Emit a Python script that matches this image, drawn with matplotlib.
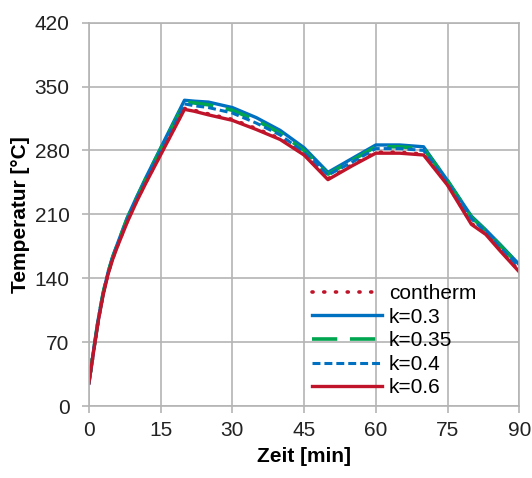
import matplotlib
matplotlib.use('Agg')
import matplotlib.pyplot as plt

# time axis [min]
zeit = [0, 1, 2, 3, 4, 5, 6, 7, 8, 10, 12, 14, 16, 18, 20, 22, 25, 30, 35, 40, 45,
        50, 55, 60, 65, 70, 75, 80, 83, 86, 90]

# temperatures [°C]
contherm = [25, 60, 95, 123, 145, 162, 176, 189, 202, 225, 246, 266, 286, 306, 326, 324, 320, 314, 304, 293, 276,
            249, 264, 278, 278, 276, 243, 200, 189, 171, 148]
k03 = [25, 61, 96, 124, 146, 164, 178, 192, 206, 229, 251, 272, 293, 314, 335, 334, 333, 327, 316, 302, 283,
       256, 271, 286, 286, 284, 247, 208, 193, 177, 155]
k035 = [25, 61, 96, 124, 146, 163, 177, 191, 205, 228, 250, 271, 292, 312, 333, 332, 330, 324, 313, 299, 280,
        254, 269, 284, 284, 282, 247, 207, 192, 176, 154]
k04 = [25, 61, 95, 123, 145, 163, 177, 190, 204, 227, 249, 269, 290, 310, 331, 329, 327, 321, 310, 297, 278,
       253, 267, 282, 282, 280, 245, 205, 191, 174, 152]
k06 = [25, 60, 94, 122, 144, 161, 175, 188, 201, 224, 245, 265, 285, 305, 325, 323, 319, 313, 303, 292, 275,
       248, 263, 277, 277, 275, 242, 199, 188, 170, 147]

red = '#C0142A'
blue = '#0070C0'
green = '#00A550'
grey = '#B4B4B4'

plt.rcParams['font.family'] = ['Liberation Sans', 'DejaVu Sans']

fig = plt.figure(figsize=(5.32, 4.78), dpi=100)
ax = fig.add_axes([0.167, 0.1506, 0.809, 0.802])

ax.plot(zeit, contherm, color=red, lw=2.6, linestyle=(0, (0.3, 2.95)), dash_capstyle='round', label='contherm')
ax.plot(zeit, k03, color=blue, lw=2.4, label='k=0.3')
ax.plot(zeit, k035, color=green, lw=2.6, linestyle=(0, (7, 3.5)), label='k=0.35')
ax.plot(zeit, k04, color=blue, lw=2.2, linestyle=(0, (2.6, 1.3)), label='k=0.4')
ax.plot(zeit, k06, color=red, lw=2.4, label='k=0.6')

ax.set_xlim(0, 90)
ax.set_ylim(0, 420)
ax.set_xticks(range(0, 91, 15))
ax.set_yticks(range(0, 421, 70))
ax.grid(True, color=grey, lw=1.2)
ax.set_axisbelow(True)
for s in ax.spines.values():
    s.set_color(grey)
    s.set_linewidth(1.2)
ax.tick_params(direction='out', length=5, color=grey, width=1.2, labelsize=15, colors='#222222')
ax.tick_params(axis='x', pad=6)
ax.tick_params(axis='y', pad=9)

ax.set_xlabel('Zeit [min]', fontsize=15, fontweight='bold', labelpad=5)
ax.set_ylabel('Temperatur [°C]', fontsize=15, fontweight='bold', labelpad=3.5)

leg = ax.legend(loc='upper left', bbox_to_anchor=(0.518, 0.318), frameon=False, fontsize=15,
                handlelength=3.37, handletextpad=0.32, labelspacing=0.22, borderpad=0, borderaxespad=0)

fig.savefig('out.png', dpi=100)
